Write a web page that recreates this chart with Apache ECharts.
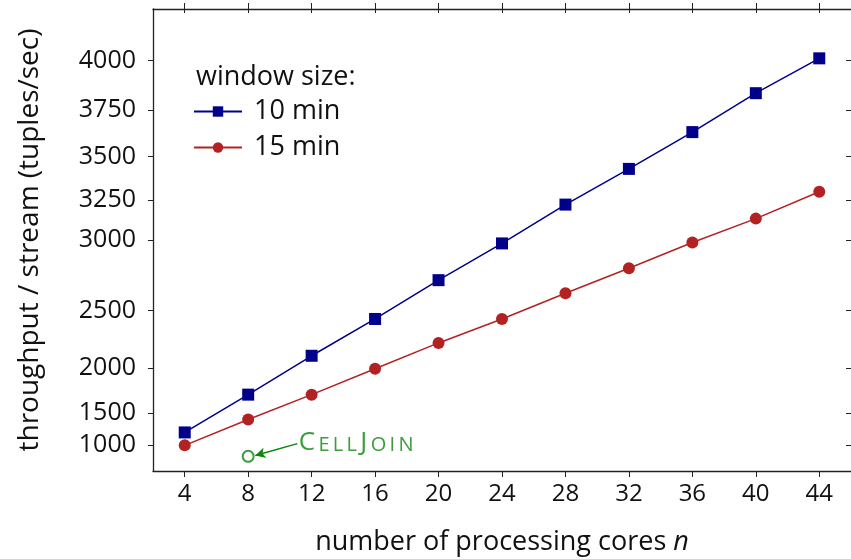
<!DOCTYPE html>
<html><head><meta charset="utf-8">
<script src="https://cdn.jsdelivr.net/npm/echarts@6/dist/echarts.min.js"></script>
<style>html,body{margin:0;padding:0;background:#fff}#c{width:851px;height:559px}</style>
</head><body><div id="c"></div>
<script>
const cores = [4, 8, 12, 16, 20, 24, 28, 32, 36, 40, 44];
const win10 = [1226, 1725, 2119, 2434, 2727, 2978, 3222, 3431, 3634, 3837, 4010];
const win15 = [1000, 1417, 1725, 1996, 2234, 2434, 2632, 2811, 2984, 3136, 3299];
const cellJoin = [[8, 755]];
const cellJoinArrowEnd = [11.1, 1033];
const yTicks = [1000, 1500, 2000, 2500, 3000, 3250, 3500, 3750, 4000];
const xTicks = [4, 8, 12, 16, 20, 24, 28, 32, 36, 40, 44];

const sq = v => v * v;
const FONT = 'Open Sans';
const GREEN = '#0a860a';
const chart = echarts.init(document.getElementById('c'));
const axisLineStyle = { color: '#222', width: 1.3 };
const yBase = {
  type: 'value', min: 0, max: sq(4243), splitLine: { show: false }
};
const T = '\u2009';
chart.setOption({
  animation: false,
  textStyle: { fontFamily: FONT },
  title: {
    text: 'window size:', left: 191, top: 59,
    textStyle: { fontFamily: FONT, fontWeight: 'normal', fontSize: 27, color: '#111' }
  },
  legend: {
    left: 188, top: 93, orient: 'vertical', itemWidth: 48, itemHeight: 13, itemGap: 9,
    textStyle: { fontFamily: FONT, fontSize: 27, lineHeight: 24, color: '#111', padding: [0, 0, 0, 7] },
    data: ['10 min', '15 min']
  },
  grid: { left: 153, right: 0, top: 9, bottom: 88, outerBoundsMode: 'none', containLabel: false },
  xAxis: [
    {
      type: 'value', min: 2, max: 46, position: 'bottom',
      name: 'number of processing cores {i|n}', nameLocation: 'middle', nameGap: 58,
      nameTextStyle: { fontFamily: FONT, fontSize: 27, color: '#111',
        rich: { i: { fontFamily: FONT, fontStyle: 'italic', fontSize: 27, color: '#111' } } },
      axisLine: { show: true, onZero: false, lineStyle: axisLineStyle },
      axisTick: { show: true, inside: false, length: 6, customValues: xTicks, lineStyle: { color: '#222' } },
      axisLabel: { customValues: xTicks, fontSize: 24, color: '#111', margin: 11, fontFamily: FONT },
      splitLine: { show: false }
    },
    {
      type: 'value', min: 2, max: 46, position: 'top',
      axisLine: { show: true, onZero: false, lineStyle: axisLineStyle },
      axisTick: { show: true, inside: true, length: 4, customValues: xTicks, lineStyle: { color: '#222' } },
      axisLabel: { show: false }, splitLine: { show: false }
    },
    {
      type: 'value', min: 2, max: 46, position: 'top',
      axisLine: { show: false, onZero: false },
      axisTick: { show: true, inside: false, length: 6, customValues: xTicks, lineStyle: { color: '#222' } },
      axisLabel: { show: false }, splitLine: { show: false }
    }
  ],
  yAxis: [
    Object.assign({}, yBase, {
      position: 'left',
      name: 'throughput / stream (tuples/sec)', nameLocation: 'middle', nameGap: 109,
      nameTextStyle: { fontFamily: FONT, fontSize: 28, color: '#111' },
      axisLine: { show: true, onZero: false, lineStyle: axisLineStyle },
      axisTick: { show: true, inside: false, length: 5, customValues: yTicks.map(sq), lineStyle: { color: '#222' } },
      axisLabel: { customValues: yTicks.map(sq), formatter: v => String(Math.round(Math.sqrt(v))),
        fontSize: 25, color: '#111', margin: 17, fontFamily: FONT }
    }),
    Object.assign({}, yBase, {
      position: 'right',
      axisLine: { show: false, onZero: false },
      axisTick: { show: true, inside: true, length: 5, customValues: yTicks.map(sq), lineStyle: { color: '#222' } },
      axisLabel: { show: false }
    })
  ],
  series: [
    {
      name: '10 min', type: 'line', symbol: 'rect', symbolSize: 12,
      data: cores.map((c, i) => [c, sq(win10[i])]),
      itemStyle: { color: '#00008b' }, lineStyle: { color: '#00008b', width: 1.5 }
    },
    {
      name: '15 min', type: 'line', symbol: 'circle', symbolSize: 12,
      data: cores.map((c, i) => [c, sq(win15[i])]),
      itemStyle: { color: '#b22222' }, lineStyle: { color: '#b22222', width: 1.5 }
    },
    {
      name: 'CellJoin', type: 'scatter', symbol: 'emptyCircle', symbolSize: 11,
      data: cellJoin.map(p => [p[0], sq(p[1])]),
      itemStyle: { color: GREEN, borderColor: GREEN, borderWidth: 1.8 },
      label: {
        show: true, position: 'right', offset: [39, -16],
        formatter: '{b|C}{s|' + T + 'E' + T + 'L' + T + 'L' + T + '}{b|J}{s|' + T + 'O' + T + 'I' + T + 'N}',
        rich: {
          b: { fontFamily: FONT, fontSize: 26, color: GREEN, verticalAlign: 'bottom', lineHeight: 30 },
          s: { fontFamily: FONT, fontSize: 20, color: GREEN, verticalAlign: 'bottom', lineHeight: 28 }
        }
      },
      markLine: {
        silent: true, symbol: ['arrow', 'none'], symbolSize: [8, 10], label: { show: false },
        lineStyle: { color: GREEN, width: 1.5, type: 'solid' },
        data: [[
          { coord: [8.45, sq(cellJoin[0][1] * 1.03)] },
          { coord: [cellJoinArrowEnd[0], sq(cellJoinArrowEnd[1])] }
        ]]
      }
    }
  ]
});
</script></body></html>
